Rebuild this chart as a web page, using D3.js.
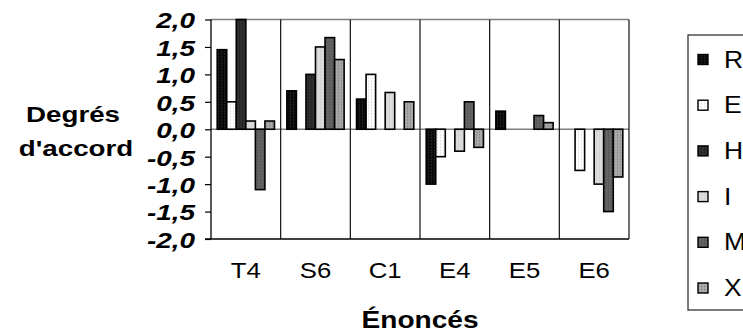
<!DOCTYPE html>
<html>
<head>
<meta charset="utf-8">
<script src="https://cdn.jsdelivr.net/npm/d3@7"></script>
<style>
  body { margin: 0; background: #fff; }
  svg { display: block; font-family: "Liberation Sans", Arial, sans-serif; }
</style>
</head>
<body>
<div id="chart"></div>
<script>

// data
const categories = ["T4", "S6", "C1", "E4", "E5", "E6"];
const seriesNames = ["R", "E", "H", "I", "M", "X"];
const valuesR = [1.45, 0.7, 0.55, -1.0, 0.33, null];
const valuesE = [0.5, null, 1.0, -0.5, null, -0.75];
const valuesH = [2.0, 1.0, null, null, null, null];
const valuesI = [0.15, 1.5, 0.67, -0.4, null, -1.0];
const valuesM = [-1.1, 1.67, null, 0.5, 0.25, -1.5];
const valuesX = [0.15, 1.27, 0.5, -0.33, 0.12, -0.87];
const yTicks = [-2, -1.5, -1, -0.5, 0, 0.5, 1, 1.5, 2];

const seriesValues = [valuesR, valuesE, valuesH, valuesI, valuesM, valuesX];

// fill patterns, one per series (base colour + dot colour)
const fills = {
    R: {base: "#0a0a0a", dot: "#3a3a3a"},
    E: {base: "#ffffff", dot: "#c8c8c8"},
    H: {base: "#2e2e2e", dot: "#141414"},
    I: {base: "#dcdcdc", dot: "#c4c4c4"},
    M: {base: "#636363", dot: "#4a4a4a"},
    X: {base: "#a8a8a8", dot: "#707070"}
};

const W = 743, H = 334;
const margin = {top: 19.5, left: 211, right: 114, bottom: 95};
const width = W - margin.left - margin.right;
const height = H - margin.top - margin.bottom;

// the text in the picture is drawn a bit wide, so stretch it horizontally
function stretch(sel, sx) {
    sel.attr("transform", function() {
        let tx = +this.getAttribute("x") || 0;
        let ty = +this.getAttribute("y") || 0;
        this.setAttribute("x", 0);
        this.setAttribute("y", 0);
        return "translate(" + tx + "," + ty + ") scale(" + sx + ",1)";
    });
}

const svg = d3.select("#chart").append("svg")
    .attr("width", W)
    .attr("height", H);

const defs = svg.append("defs");
seriesNames.forEach(function(s) {
    let p = defs.append("pattern")
        .attr("id", "pat-" + s)
        .attr("width", 3)
        .attr("height", 3)
        .attr("patternUnits", "userSpaceOnUse");
    p.append("rect").attr("width", 3).attr("height", 3).attr("fill", fills[s].base);
    p.append("rect").attr("x", 1).attr("y", 1).attr("width", 1).attr("height", 1).attr("fill", fills[s].dot);
});

const g = svg.append("g")
    .attr("transform", "translate(" + margin.left + "," + margin.top + ")");

// scales
const x0 = d3.scaleBand()
    .domain(categories)
    .range([0, width])
    .paddingInner(0)
    .paddingOuter(0);

const x1 = d3.scaleBand()
    .domain(seriesNames)
    .range([0, x0.bandwidth()])
    .paddingInner(0)
    .paddingOuter(0.65);

const y = d3.scaleLinear()
    .domain([-2, 2])
    .range([height, 0]);

// top line at 2,0 and zero line
g.append("line")
    .attr("x1", 0).attr("x2", width)
    .attr("y1", y(2)).attr("y2", y(2))
    .attr("stroke", "#808080").attr("stroke-width", 1.3);

g.append("line")
    .attr("x1", 0).attr("x2", width)
    .attr("y1", y(0)).attr("y2", y(0))
    .attr("stroke", "#808080").attr("stroke-width", 1.3);

// vertical separators between categories
g.selectAll(".sep")
    .data(categories)
    .enter().append("line")
    .attr("class", "sep")
    .attr("x1", function(d) { return x0(d) + x0.bandwidth(); })
    .attr("x2", function(d) { return x0(d) + x0.bandwidth(); })
    .attr("y1", y(2))
    .attr("y2", y(-2))
    .attr("stroke", "#111")
    .attr("stroke-width", 1.2);

// bars
const barData = [];
seriesNames.forEach(function(s, i) {
    categories.forEach(function(c, j) {
        let v = seriesValues[i][j];
        if (v !== null) barData.push({series: s, cat: c, value: v});
    });
});

g.selectAll(".bar")
    .data(barData)
    .enter().append("rect")
    .attr("class", "bar")
    .attr("x", function(d) { return x0(d.cat) + x1(d.series); })
    .attr("width", x1.bandwidth())
    .attr("y", function(d) { return y(Math.max(0, d.value)); })
    .attr("height", function(d) { return Math.abs(y(d.value) - y(0)); })
    .attr("fill", function(d) { return "url(#pat-" + d.series + ")"; })
    .attr("stroke", "#000")
    .attr("stroke-width", 1.6);

// y axis
const fmt = d3.format(".1f");
const yAxis = d3.axisLeft(y)
    .tickValues(yTicks)
    .tickSize(6)
    .tickPadding(10)
    .tickFormat(function(d) { return fmt(d).replace(".", ",").replace("\u2212", "-"); });

const yAxisGroup = g.append("g")
    .attr("class", "y-axis")
    .call(yAxis);
yAxisGroup.select(".domain").remove();
yAxisGroup.selectAll(".tick line").attr("stroke", "#000").attr("stroke-width", 1.2);
yAxisGroup.selectAll(".tick text")
    .attr("fill", "#000")
    .style("font-size", "22px")
    .style("font-weight", "bold")
    .style("font-style", "italic")
    .attr("dy", "0.38em")
    .call(stretch, 1.27);

g.append("line")
    .attr("x1", 0).attr("x2", 0)
    .attr("y1", y(2)).attr("y2", y(-2))
    .attr("stroke", "#000").attr("stroke-width", 1.3);

g.append("line")
    .attr("x1", -6).attr("x2", width)
    .attr("y1", y(-2)).attr("y2", y(-2))
    .attr("stroke", "#000").attr("stroke-width", 1.3);

// category labels
const xAxis = d3.axisBottom(x0).tickSize(0).tickPadding(0);
const xAxisGroup = g.append("g")
    .attr("class", "x-axis")
    .attr("transform", "translate(0," + height + ")")
    .call(xAxis);
xAxisGroup.select(".domain").remove();
xAxisGroup.selectAll(".tick text")
    .attr("fill", "#000")
    .attr("y", 39)
    .attr("dy", 0)
    .style("font-size", "22px")
    .call(stretch, 1.17);

// axis titles
svg.append("text")
    .attr("x", margin.left + width / 2)
    .attr("y", 328)
    .attr("text-anchor", "middle")
    .style("font-size", "24px")
    .style("font-weight", "bold")
    .text("Énoncés")
    .call(stretch, 1.17);

svg.append("text")
    .attr("x", 73)
    .attr("y", 122)
    .attr("text-anchor", "middle")
    .style("font-size", "22px")
    .style("font-weight", "bold")
    .text("Degrés")
    .call(stretch, 1.26);

svg.append("text")
    .attr("x", 76)
    .attr("y", 156)
    .attr("text-anchor", "middle")
    .style("font-size", "22px")
    .style("font-weight", "bold")
    .text("d'accord")
    .call(stretch, 1.26);

// legend
const legend = svg.append("g").attr("transform", "translate(688,35)");
legend.append("rect")
    .attr("width", 80)
    .attr("height", 275)
    .attr("fill", "#fff")
    .attr("stroke", "#222")
    .attr("stroke-width", 1.2);

const items = legend.selectAll(".item")
    .data(seriesNames)
    .enter().append("g")
    .attr("class", "item")
    .attr("transform", function(d, i) { return "translate(0," + (24.5 + i * 45.7) + ")"; });

items.append("rect")
    .attr("x", 10)
    .attr("y", -5)
    .attr("width", 10)
    .attr("height", 10)
    .attr("fill", function(d) { return "url(#pat-" + d + ")"; })
    .attr("stroke", "#000")
    .attr("stroke-width", 1.4);

items.append("text")
    .attr("x", 36)
    .attr("y", 8)
    .style("font-size", "23px")
    .text(function(d) { return d; })
    .call(stretch, 1.15);

</script>
</body>
</html>
